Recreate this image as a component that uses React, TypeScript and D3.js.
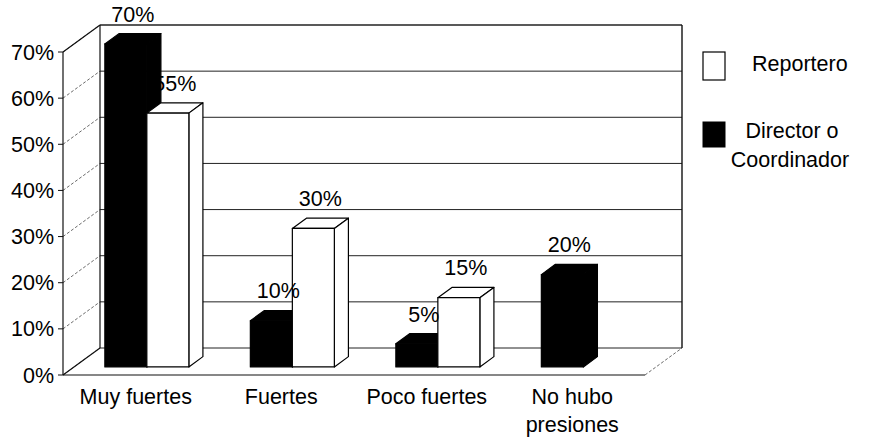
import React from "react";
import * as d3 from "d3";

const categories = ["Muy fuertes", "Fuertes", "Poco fuertes", "No hubo presiones"];
const categoryLines = [["Muy fuertes"], ["Fuertes"], ["Poco fuertes"], ["No hubo", "presiones"]];
const seriesNames = ["Director o Coordinador", "Reportero"];
const directorValues = [70, 10, 5, 20];
const reporteroValues = [55, 30, 15, 0];
const yTicks = [0, 10, 20, 30, 40, 50, 60, 70];

const FONT = "'Liberation Sans', Arial, sans-serif";
const FS = 21.5;

export default function App() {
  const X0 = 63;
  const W = 582;
  const DX = 37;
  const DY = -27;
  const f0 = 0.3;
  const f1 = 0.68;

  const y = d3.scaleLinear().domain([0, 70]).range([375, 52]);
  const x0 = d3.scaleBand().domain(categories).range([0, W]).padding(0);
  const x1 = d3
    .scaleBand()
    .domain(seriesNames)
    .range([0, x0.bandwidth()])
    .paddingInner(0)
    .paddingOuter(0.732);
  const bw = x1.bandwidth();
  const ddx = DX * (f1 - f0);
  const ddy = DY * (f1 - f0);

  const series = [
    { name: seriesNames[0], values: directorValues, fill: "#000" },
    { name: seriesNames[1], values: reporteroValues, fill: "#fff" },
  ];

  const bars: any[] = [];
  categories.forEach((c, i) => {
    series.forEach((s) => {
      const v = s.values[i];
      if (!v) return;
      const xl = X0 + (x0(c) as number) + (x1(s.name) as number) + DX * f0;
      const xr = xl + bw;
      const yb = y(0) + DY * f0;
      const yt = y(v) + DY * f0;
      bars.push({ key: c + s.name, xl, xr, yb, yt, v, fill: s.fill });
    });
  });

  const backL = X0 + DX;
  const backR = X0 + W + DX;

  return (
    <div style={{ position: "fixed", left: 0, top: 0 }}>
      <svg width={880} height={440} style={{ display: "block", background: "#fff" }}>
        {/* side wall gridlines */}
        {yTicks.map((t) => (
          <line
            key={"sg" + t}
            x1={X0}
            y1={y(t)}
            x2={backL}
            y2={y(t) + DY}
            stroke="#444"
            strokeWidth={0.8}
            strokeDasharray="3,2"
          />
        ))}
        {/* back wall gridlines */}
        {yTicks.map((t) => (
          <line
            key={"bg" + t}
            x1={backL}
            y1={y(t) + DY}
            x2={backR}
            y2={y(t) + DY}
            stroke="#222"
            strokeWidth={t === 70 ? 1.6 : 1}
          />
        ))}
        {/* back wall verticals */}
        <line x1={backL} y1={y(70) + DY} x2={backL} y2={y(0) + DY} stroke="#111" strokeWidth={1.2} />
        <line x1={backR} y1={y(70) + DY} x2={backR} y2={y(0) + DY} stroke="#111" strokeWidth={1.4} />
        {/* left wall edges */}
        <line x1={X0} y1={y(70)} x2={backL} y2={y(70) + DY} stroke="#111" strokeWidth={1.2} />
        <line x1={X0} y1={y(0)} x2={backL} y2={y(0) + DY} stroke="#111" strokeWidth={1.2} />
        {/* floor */}
        <line x1={X0} y1={y(0)} x2={X0 + W} y2={y(0)} stroke="#111" strokeWidth={1.2} />
        <line
          x1={X0 + W}
          y1={y(0)}
          x2={backR}
          y2={y(0) + DY}
          stroke="#444"
          strokeWidth={0.8}
          strokeDasharray="3,2"
        />
        {/* front axis */}
        <line x1={X0} y1={y(0)} x2={X0} y2={y(70)} stroke="#111" strokeWidth={1.2} />
        {yTicks.map((t) => (
          <g key={"yt" + t}>
            <line x1={X0 - 5} y1={y(t)} x2={X0} y2={y(t)} stroke="#111" strokeWidth={1} />
            <text
              x={54}
              y={y(t) + 7.5}
              textAnchor="end"
              fontFamily={FONT}
              fontSize={FS}
              fill="#000"
            >
              {t}%
            </text>
          </g>
        ))}
        {/* bars */}
        {bars.map((b) => (
          <g key={b.key} stroke="#000" strokeWidth={1.2} strokeLinejoin="round">
            <polygon
              points={`${b.xl},${b.yt} ${b.xl + ddx},${b.yt + ddy} ${b.xr + ddx},${b.yt + ddy} ${b.xr},${b.yt}`}
              fill={b.fill}
            />
            <polygon
              points={`${b.xr},${b.yt} ${b.xr + ddx},${b.yt + ddy} ${b.xr + ddx},${b.yb + ddy} ${b.xr},${b.yb}`}
              fill={b.fill}
            />
            <rect x={b.xl} y={b.yt} width={b.xr - b.xl} height={b.yb - b.yt} fill={b.fill} />
          </g>
        ))}
        {/* value labels */}
        {bars.map((b) => (
          <text
            key={"l" + b.key}
            x={(b.xl + b.xr) / 2 + ddx / 2}
            y={b.yt + ddy - 12}
            textAnchor="middle"
            fontFamily={FONT}
            fontSize={FS}
            fill="#000"
          >
            {b.v}%
          </text>
        ))}
        {/* category labels */}
        {categories.map((c, i) => (
          <text
            key={"c" + c}
            x={X0 + (x0(c) as number) + x0.bandwidth() / 2}
            y={404}
            textAnchor="middle"
            fontFamily={FONT}
            fontSize={FS}
            fill="#000"
          >
            {categoryLines[i].map((ln, j) => (
              <tspan key={j} x={X0 + (x0(c) as number) + x0.bandwidth() / 2} dy={j === 0 ? 0 : 28}>
                {ln}
              </tspan>
            ))}
          </text>
        ))}
        {/* legend */}
        <rect x={703} y={52} width={22} height={28} fill="#fff" stroke="#000" strokeWidth={1.2} />
        <text x={752} y={71} fontFamily={FONT} fontSize={FS} fill="#000">
          Reportero
        </text>
        <rect x={703} y={122} width={22} height={25} fill="#000" stroke="#000" />
        <text x={792} y={138} textAnchor="middle" fontFamily={FONT} fontSize={FS} fill="#000">
          Director o
        </text>
        <text x={790} y={167} textAnchor="middle" fontFamily={FONT} fontSize={FS} fill="#000">
          Coordinador
        </text>
      </svg>
    </div>
  );
}
